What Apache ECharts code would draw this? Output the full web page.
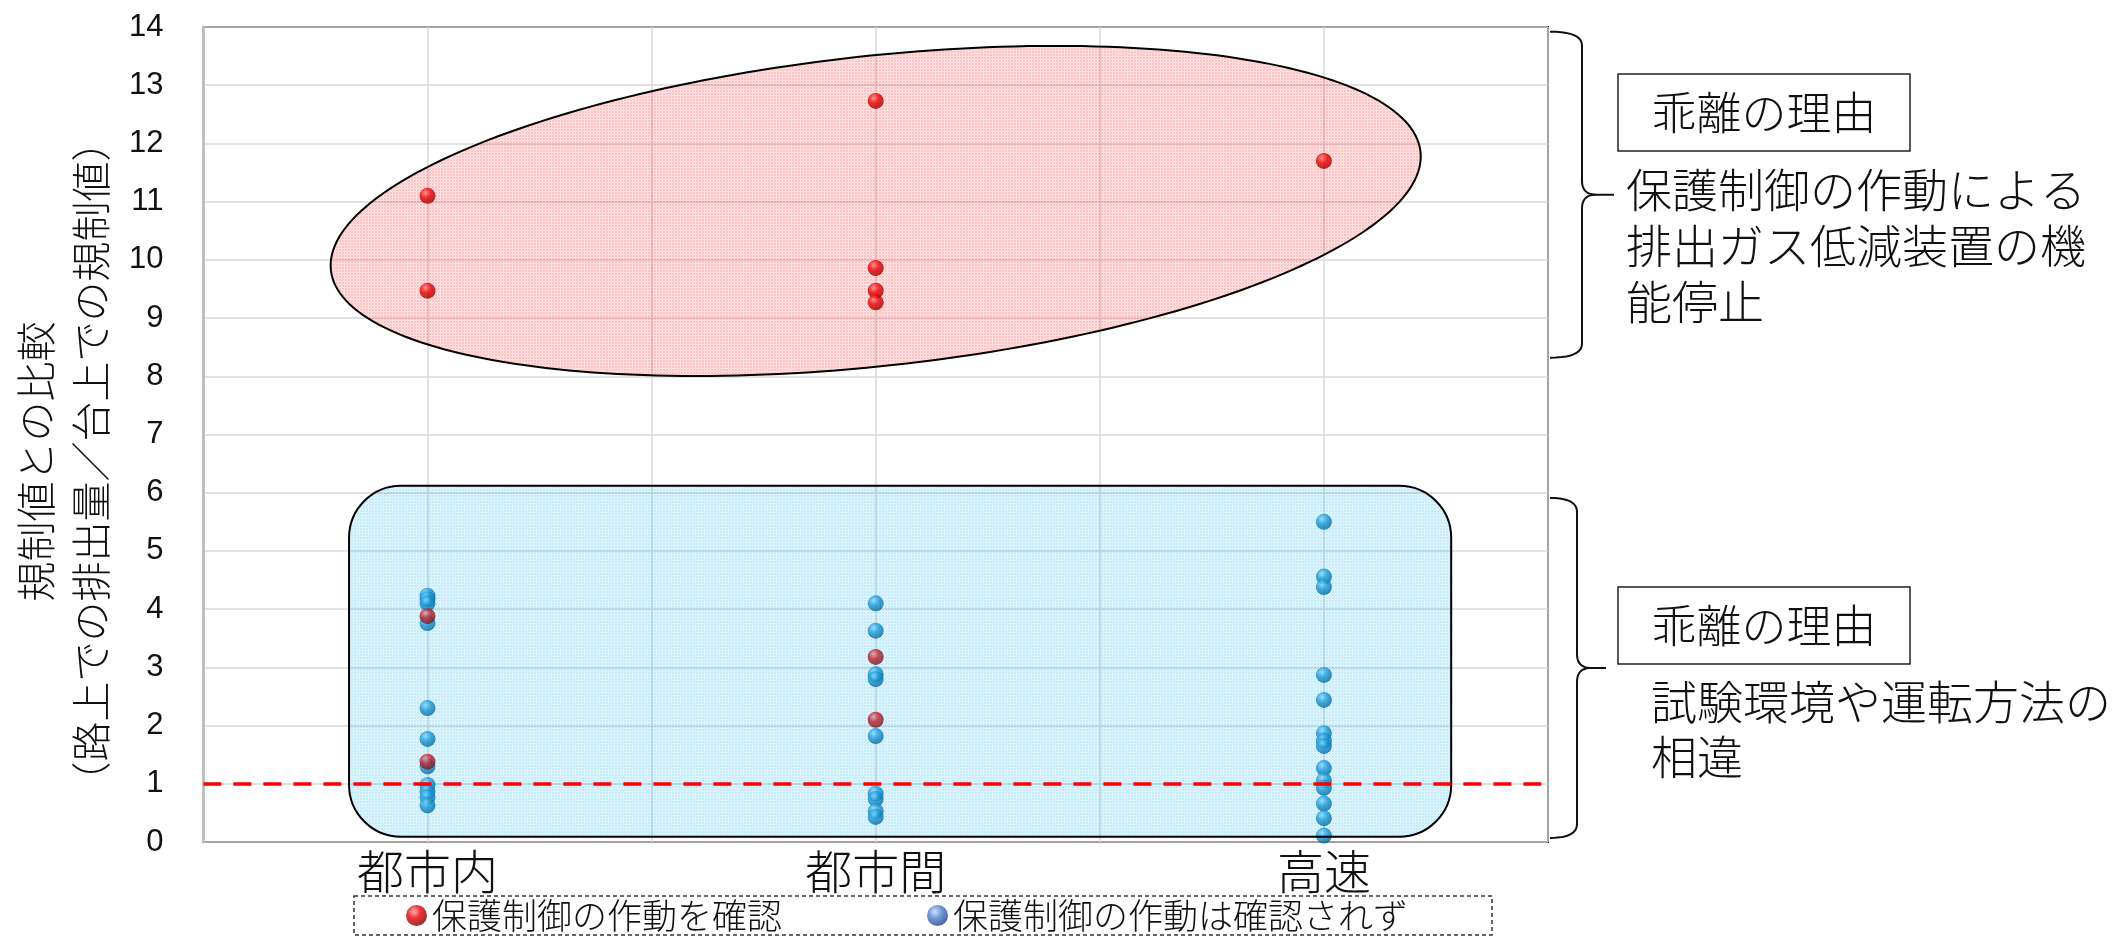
<!DOCTYPE html>
<html>
<head>
<meta charset="utf-8">
<script src="https://cdn.jsdelivr.net/npm/echarts@6/dist/echarts.min.js"></script>
<style>
  html, body { margin: 0; padding: 0; background: #fff; }
  #chart { width: 2116px; height: 939px; }
</style>
</head>
<body>
<div id="chart"></div>
<script>
// Driving conditions on the x axis
const categories = ['都市内', '都市間', '高速'];

// Ratio of on-road emissions to the bench-test limit
// 保護制御の作動を確認
const activatedUrban = [11.1, 9.47, 3.88, 1.38];
const activatedInterurban = [12.73, 9.86, 9.47, 9.27, 3.18, 2.10];
const activatedHighway = [11.70];
// 保護制御の作動は確認されず
const notActivatedUrban = [4.23, 4.17, 4.10, 3.76, 2.30, 1.77, 1.30, 0.98, 0.87, 0.77, 0.63];
const notActivatedInterurban = [4.10, 3.63, 2.88, 2.80, 1.82, 0.83, 0.74, 0.53, 0.43];
const notActivatedHighway = [5.50, 4.56, 4.38, 2.87, 2.44, 1.87, 1.74, 1.65, 1.27, 1.06, 0.93, 0.66, 0.41, 0.11];

// Regulation level (ratio = 1)
const regulationRatio = 1;

// Y axis range
const yMin = 0, yMax = 14, yStep = 1;

const seriesActivated = '保護制御の作動を確認';
const seriesNotActivated = '保護制御の作動は確認されず';
const yAxisName = '規制値との比較\n（路上での排出量／台上での規制値）';

const JP = '"Noto Sans CJK JP", "Noto Sans", sans-serif';
const LATIN = '"Liberation Sans", Arial, sans-serif';

function toPoints(groups) {
  const pts = [];
  groups.forEach((vals, i) => vals.forEach(v => pts.push([i, v])));
  return pts;
}

const activatedData = toPoints([activatedUrban, activatedInterurban, activatedHighway]);
const notActivatedData = toPoints([notActivatedUrban, notActivatedInterurban, notActivatedHighway]);

function sphere(light, mid, dark) {
  return {
    type: 'radial', x: 0.38, y: 0.32, r: 0.7,
    colorStops: [
      { offset: 0, color: light },
      { offset: 0.45, color: mid },
      { offset: 1, color: dark }
    ]
  };
}
const redBall = sphere('#ff9c9c', '#e80000', '#7a0000');
const blueBall = sphere('#a8e4ff', '#1f97d4', '#0a5884');
const legendBlueBall = sphere('#c4d8ff', '#4f7fd0', '#1d3f86');

// fine screen-like texture for the translucent zones
function texture(rgb, alpha, lineAlpha) {
  const c = document.createElement('canvas');
  c.width = 3; c.height = 3;
  const g = c.getContext('2d');
  g.fillStyle = 'rgba(' + rgb + ',' + alpha + ')';
  g.fillRect(0, 0, 3, 3);
  g.clearRect(0, 2, 3, 1);
  g.clearRect(2, 0, 1, 3);
  g.fillStyle = 'rgba(' + rgb + ',' + lineAlpha + ')';
  g.fillRect(0, 2, 3, 1);
  g.fillRect(2, 0, 1, 3);
  return { image: c, repeat: 'repeat' };
}

const chart = echarts.init(document.getElementById('chart'), null, { renderer: 'canvas' });

const option = {
  animation: false,
  backgroundColor: '#ffffff',
  grid: {
    left: 202, right: 568, top: 27, bottom: 97,
    show: true, borderColor: '#000', borderWidth: 2, backgroundColor: 'transparent'
  },
  legend: {
    left: 354, top: 896,
    padding: [2, 84, 2, 52],
    itemGap: 145, itemWidth: 21, itemHeight: 21,
    borderColor: '#333', borderWidth: 1.5, borderType: [4, 3],
    textStyle: { fontSize: 35, fontFamily: JP, fontWeight: 300, color: '#111' },
    data: [
      { name: seriesActivated, icon: 'circle', itemStyle: { color: redBall } },
      { name: seriesNotActivated, icon: 'circle', itemStyle: { color: legendBlueBall } }
    ]
  },
  xAxis: {
    type: 'value', min: -0.5, max: categories.length - 0.5, interval: 0.5,
    axisLine: { show: false, onZero: false },
    axisTick: { show: false },
    axisLabel: {
      formatter: v => (Number.isInteger(v) && categories[v]) ? categories[v] : '',
      fontSize: 47, fontFamily: JP, fontWeight: 300, color: '#111', margin: 6,
      showMinLabel: true, showMaxLabel: true
    },
    splitLine: { show: true, lineStyle: { color: '#d9d9d9', width: 1.5 } }
  },
  yAxis: {
    type: 'value', min: yMin, max: yMax, interval: yStep,
    name: yAxisName, nameLocation: 'middle', nameRotate: 90, nameGap: 80,
    nameTextStyle: { fontSize: 40, lineHeight: 55, fontFamily: JP, fontWeight: 300, color: '#111', padding: [0, 54, 0, 0] },
    axisLine: { show: true, onZero: false, lineStyle: { color: '#bfbfbf', width: 3 } },
    axisTick: { show: false },
    axisLabel: { fontSize: 31, fontFamily: LATIN, color: '#111', margin: 40 },
    splitLine: { lineStyle: { color: '#d9d9d9', width: 1.5 } }
  },
  series: [
    {
      name: seriesNotActivated, type: 'scatter', symbolSize: 16, z: 2,
      itemStyle: { color: blueBall },
      data: notActivatedData,
      markLine: {
        silent: true, symbol: 'none', z: 5,
        label: { show: false },
        lineStyle: { color: '#ff0000', width: 3.5, type: [18, 12] },
        data: [{ yAxis: regulationRatio }]
      }
    },
    {
      name: seriesActivated, type: 'scatter', symbolSize: 16, z: 2,
      itemStyle: { color: redBall },
      data: activatedData
    }
  ]
};
chart.setOption(option);

// ---- annotations: highlighted zones, braces and explanation boxes ----
const px = (x, y) => chart.convertToPixel({ gridIndex: 0 }, [x, y]);

// tilted ellipse around the high-ratio points
const highZone = { center: [1.0, 10.84], rx: 548, ry: 155, tiltDeg: 6.2 };
// rounded box around the low-ratio points
const lowZone = { from: [-0.175, 6.12], to: [2.284, 0.09], radius: 52 };
// braces on the right, spanning value ranges
const braces = [
  { range: [8.32, 13.92], xStart: 1550, xSpine: 1582, xTip: 1614 },
  { range: [0.07, 5.91], xStart: 1550, xSpine: 1577, xTip: 1606 }
];

function ellipsePoints(z) {
  const c = px(z.center[0], z.center[1]);
  const th = z.tiltDeg * Math.PI / 180;
  const pts = [];
  for (let i = 0; i < 240; i++) {
    const t = i / 240 * Math.PI * 2;
    const ex = z.rx * Math.cos(t), ey = z.ry * Math.sin(t);
    pts.push([c[0] + ex * Math.cos(th) + ey * Math.sin(th), c[1] - ex * Math.sin(th) + ey * Math.cos(th)]);
  }
  return pts;
}

function quad(p0, c, p1, n) {
  const out = [];
  for (let i = 0; i <= n; i++) {
    const t = i / n, u = 1 - t;
    out.push([u * u * p0[0] + 2 * u * t * c[0] + t * t * p1[0], u * u * p0[1] + 2 * u * t * c[1] + t * t * p1[1]]);
  }
  return out;
}

function bracePaths(b) {
  const yTop = px(0, b.range[1])[1];
  const yBot = px(0, b.range[0])[1];
  const yMid = (yTop + yBot) / 2;
  const r = 14;
  const upper = [].concat(
    quad([b.xStart, yTop], [b.xSpine, yTop], [b.xSpine, yTop + r], 10),
    quad([b.xSpine, yMid - r], [b.xSpine, yMid], [b.xSpine + r, yMid], 10),
    [[b.xTip, yMid]]
  );
  const lower = [].concat(
    quad([b.xStart, yBot], [b.xSpine, yBot], [b.xSpine, yBot - r], 10),
    quad([b.xSpine, yMid + r], [b.xSpine, yMid], [b.xSpine + r, yMid], 10)
  );
  return [upper, lower];
}

const graphics = [];
const lz0 = px(lowZone.from[0], lowZone.from[1]);
const lz1 = px(lowZone.to[0], lowZone.to[1]);
graphics.push({
  type: 'rect', z: 3, silent: true,
  shape: { x: lz0[0], y: lz0[1], width: lz1[0] - lz0[0], height: lz1[1] - lz0[1], r: lowZone.radius },
  style: { fill: texture('0,170,240', 0.24, 0.1), stroke: '#000', lineWidth: 2 }
});
graphics.push({
  type: 'polygon', z: 3, silent: true,
  shape: { points: ellipsePoints(highZone) },
  style: { fill: texture('255,0,0', 0.24, 0.1), stroke: '#000', lineWidth: 2 }
});
braces.forEach(b => {
  bracePaths(b).forEach(p => graphics.push({
    type: 'polyline', z: 3, silent: true,
    shape: { points: p },
    style: { stroke: '#111', lineWidth: 2, fill: null }
  }));
});

function reasonBox(top, bodyText, bodyLeft, bodyTop, lineH) {
  graphics.push({
    type: 'rect', z: 3, silent: true,
    shape: { x: 1618, y: top, width: 292, height: 77 },
    style: { fill: '#fff', stroke: '#222', lineWidth: 1.5 }
  });
  graphics.push({
    type: 'text', z: 4, silent: true, x: 1764, y: top + 39,
    style: { text: '乖離の理由', fontSize: 45, fontFamily: JP, fontWeight: 300, fill: '#111', align: 'center', verticalAlign: 'middle' }
  });
  graphics.push({
    type: 'text', z: 4, silent: true, x: bodyLeft, y: bodyTop,
    style: { text: bodyText, fontSize: 46, lineHeight: lineH, fontFamily: JP, fontWeight: 300, fill: '#111', align: 'left', verticalAlign: 'top' }
  });
}
reasonBox(74, '保護制御の作動による\n排出ガス低減装置の機\n能停止', 1626, 162, 56);
reasonBox(587, '試験環境や運転方法の\n相違', 1651, 674, 55);

chart.setOption({ graphic: { elements: graphics } });
</script>
</body>
</html>
